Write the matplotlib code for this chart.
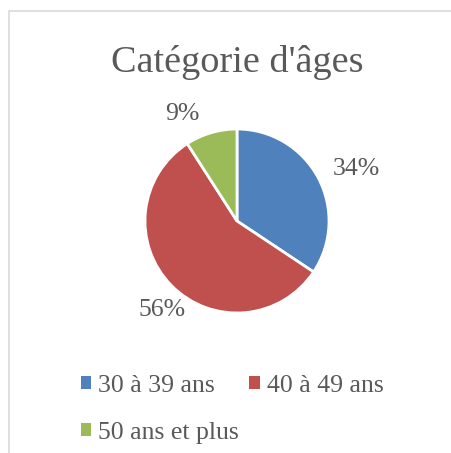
import matplotlib
matplotlib.use("Agg")
import numpy as np
import matplotlib.pyplot as plt
from matplotlib.patches import Rectangle

# données du graphique
categories = ["30 à 39 ans", "40 à 49 ans", "50 ans et plus"]
valeurs = [34, 56, 9]
etiquettes = ["34%", "56%", "9%"]
couleurs = ["#4F81BD", "#C0504D", "#9BBB59"]
titre = "Catégorie d'âges"

plt.rcParams["font.family"] = ["Liberation Serif", "DejaVu Serif"]
gris = "#595959"

fig = plt.figure(figsize=(4.51, 4.53), dpi=100)

# cadre gris clair (haut et gauche visibles)
fig.patches.append(Rectangle((0.020, -0.1), 1.2, 1.075, transform=fig.transFigure,
                             fill=False, edgecolor="#D9D9D9", linewidth=1.2))

fig.text(0.525, 0.862, titre, ha="center", va="center", fontsize=27.5, color=gris)

# axe du camembert
ax = fig.add_axes([145 / 451, 140 / 453, 184 / 451, 184 / 453])
wedges, _ = ax.pie(valeurs, colors=couleurs, startangle=90, counterclock=False,
                   wedgeprops=dict(edgecolor="white", linewidth=2))
ax.set_xlim(-1, 1)
ax.set_ylim(-1, 1)
ax.set_aspect("equal")

# placement des étiquettes (angle en degrés, rayon relatif)
placement = [(23.5, 1.42), (230.0, 1.26), (117.0, 1.30)]
for lab, (a, r) in zip(etiquettes, placement):
    t = np.deg2rad(a)
    ax.text(r * np.cos(t), r * np.sin(t), lab, ha="center", va="center",
            fontsize=18.5, color=gris)

# légende (ordre par lignes)
ordre = [0, 2, 1]
handles = [Rectangle((0, 0), 1, 1, facecolor=couleurs[i], edgecolor="none") for i in ordre]
labels = [categories[i] for i in ordre]
fig.legend(handles, labels, loc="upper left", bbox_to_anchor=(0.179, 0.173),
           ncol=2, frameon=False, fontsize=18.5, handlelength=0.4, handleheight=0.4,
           handletextpad=0.28, columnspacing=0.4, labelspacing=0.97,
           labelcolor=gris, borderaxespad=0, borderpad=0)

fig.savefig("out.png", dpi=100)
